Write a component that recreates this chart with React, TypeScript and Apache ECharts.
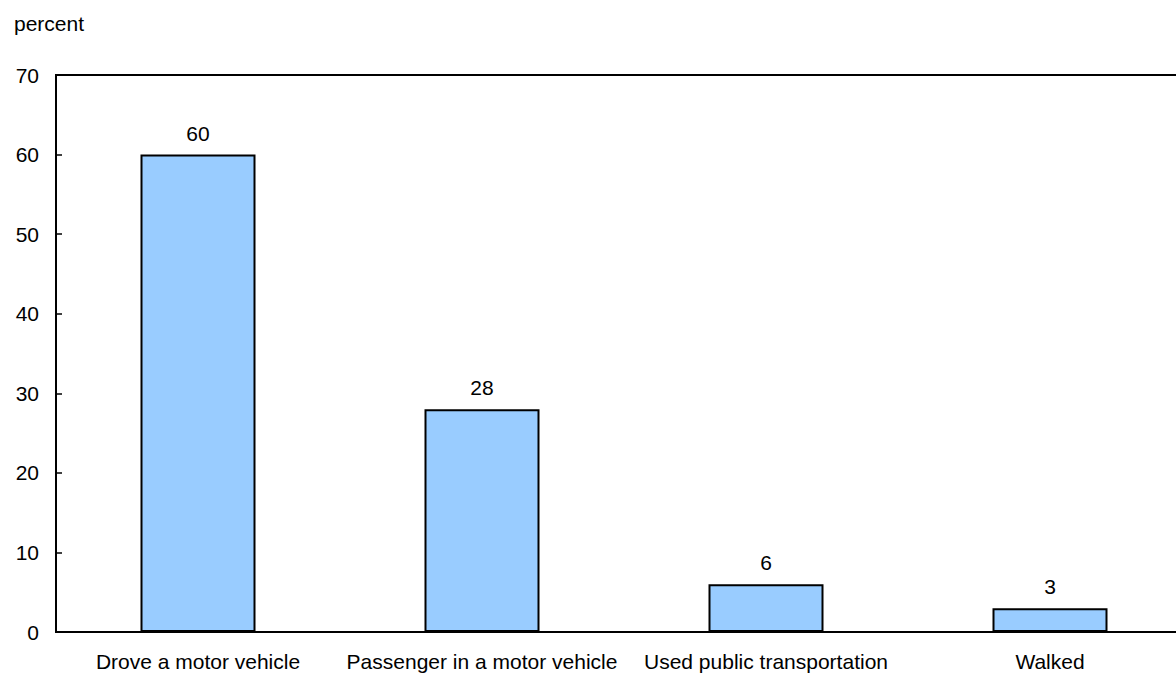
import React, { useEffect, useRef } from "react";
import * as echarts from "echarts";

const categories = [
  "Drove a motor vehicle",
  "Passenger in a motor vehicle",
  "Used public transportation",
  "Walked",
];
const values = [60, 28, 6, 3];
const yTicks = [0, 10, 20, 30, 40, 50, 60, 70];

const FONT = "'Liberation Sans', Arial, Helvetica, sans-serif";
const FS = 21;

export default function App() {
  const ref = useRef<HTMLDivElement>(null);

  useEffect(() => {
    if (!ref.current) return;
    const chart = echarts.init(ref.current, undefined, { renderer: "svg" });
    chart.setOption({
      animation: false,
      backgroundColor: "#ffffff",
      textStyle: { fontFamily: FONT },
      graphic: [
        {
          type: "text",
          left: 14,
          top: 13,
          style: { text: "percent", fontSize: FS, fontFamily: FONT, fill: "#000" },
        },
      ],
      grid: {
        left: 56,
        top: 75,
        right: 8,
        bottom: 43,
        show: true,
        borderColor: "#000",
        borderWidth: 2,
        backgroundColor: "transparent",
      },
      xAxis: {
        type: "category",
        data: categories,
        axisLine: { lineStyle: { color: "#000", width: 2 } },
        axisTick: { show: false },
        axisLabel: {
          color: "#000",
          fontSize: FS,
          fontFamily: FONT,
          margin: 19,
          interval: 0,
        },
      },
      yAxis: {
        type: "value",
        min: yTicks[0],
        max: yTicks[yTicks.length - 1],
        interval: 10,
        axisLine: { show: true, lineStyle: { color: "#000", width: 2 } },
        axisTick: { show: true, inside: true, length: 6, lineStyle: { color: "#000", width: 1.5 } },
        splitLine: { show: false },
        axisLabel: { color: "#000", fontSize: FS, fontFamily: FONT, margin: 17 },
      },
      series: [
        {
          type: "bar",
          data: values,
          barWidth: 115,
          itemStyle: { color: "#99ccff", borderColor: "#000", borderWidth: 2 },
          label: {
            show: true,
            position: "top",
            distance: 11,
            color: "#000",
            fontSize: FS,
            fontFamily: FONT,
          },
        },
      ],
    });
    return () => chart.dispose();
  }, []);

  return (
    <div
      style={{
        position: "fixed",
        left: 0,
        top: 0,
        width: 1176,
        height: 675,
        overflow: "hidden",
        background: "#fff",
      }}
    >
      <div ref={ref} style={{ width: 1200, height: 675 }} />
    </div>
  );
}
